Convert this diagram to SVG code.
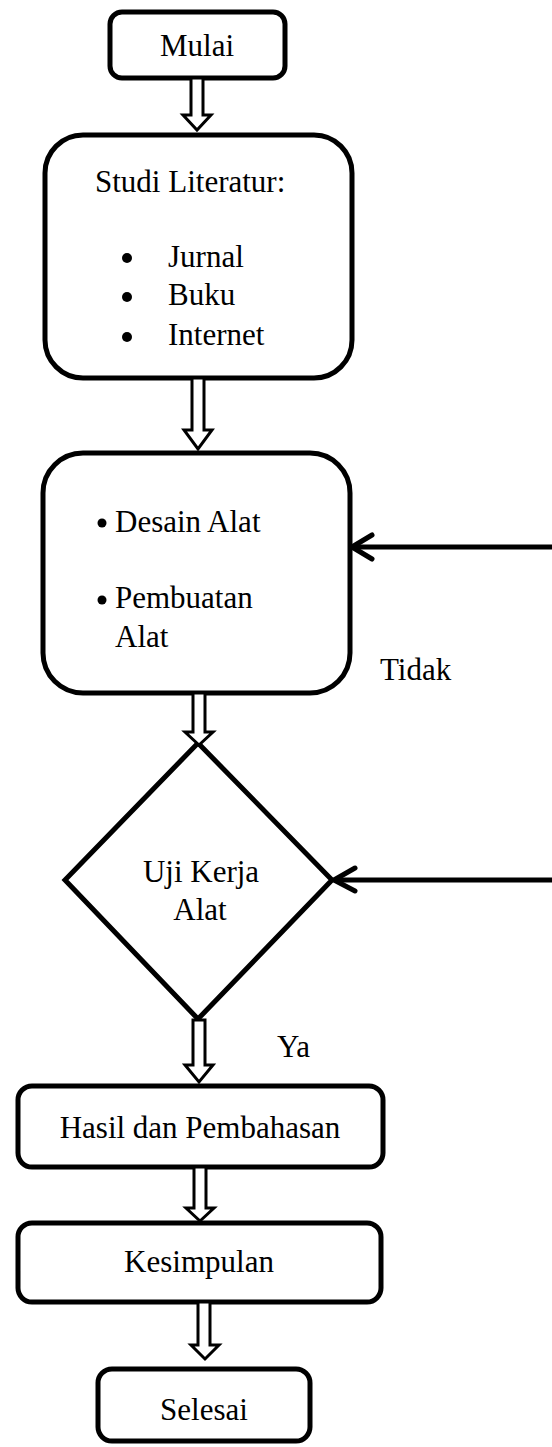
<svg xmlns="http://www.w3.org/2000/svg" width="552" height="1447" viewBox="0 0 552 1447">
<style>
.box{fill:#fff;stroke:#000;stroke-width:5}
.t{font-family:"Liberation Serif","Times New Roman",serif;font-size:31px;fill:#000}
.c{text-anchor:middle}
.ha{fill:#fff;stroke:#000;stroke-width:3;stroke-linejoin:miter}
.ln{fill:none;stroke:#000;stroke-width:5;stroke-linecap:round;stroke-linejoin:round}
</style>
<rect width="552" height="1447" fill="#fff"/>
<g id="mulai">
<rect class="box" x="110" y="12" width="175" height="66" rx="12"/>
<text class="t c" x="197" y="56">Mulai</text>
</g>
<g id="studi">
<rect class="box" x="45" y="135" width="307" height="243" rx="38"/>
<text class="t" x="95" y="192">Studi Literatur:</text>
<circle cx="127" cy="258" r="5"/>
<circle cx="127" cy="297" r="5"/>
<circle cx="127" cy="337" r="5"/>
<text class="t" x="168" y="267">Jurnal</text>
<text class="t" x="168" y="305">Buku</text>
<text class="t" x="168" y="345">Internet</text>
</g>
<g id="desain">
<rect class="box" x="43" y="453" width="307" height="240" rx="40"/>
<circle cx="102" cy="523" r="4.5"/>
<circle cx="102" cy="600" r="4.5"/>
<text class="t" x="115" y="532">Desain Alat</text>
<text class="t" x="115" y="608">Pembuatan</text>
<text class="t" x="115" y="647">Alat</text>
</g>
<g id="uji">
<polygon class="box" points="198,743 332,880 198,1019 65,880"/>
<text class="t c" x="201" y="882">Uji Kerja</text>
<text class="t c" x="200" y="920">Alat</text>
</g>
<g id="hasil">
<rect class="box" x="18" y="1086" width="365" height="81" rx="14"/>
<text class="t c" x="200" y="1138">Hasil dan Pembahasan</text>
</g>
<g id="kesimpulan">
<rect class="box" x="18" y="1223" width="363" height="79" rx="14"/>
<text class="t c" x="199" y="1272">Kesimpulan</text>
</g>
<g id="selesai">
<rect class="box" x="98" y="1369" width="212" height="72" rx="14"/>
<text class="t c" x="204" y="1420">Selesai</text>
</g>
<g id="connectors">
<polygon class="ha" points="191,78 203,78 203,115 211,115 197,130 183,115 191,115"/>
<polygon class="ha" points="192,378 204,378 204,430 212,430 198,449 184,430 192,430"/>
<polygon class="ha" points="193,693 205,693 205,732 213,732 199,745 185,732 193,732"/>
<polygon class="ha" points="193,1020 205,1020 205,1065 213,1065 199,1082 185,1065 193,1065"/>
<polygon class="ha" points="194,1167 206,1167 206,1208 214,1208 200,1221 186,1208 194,1208"/>
<polygon class="ha" points="198,1302 210,1302 210,1345 219,1345 205,1359 191,1345 198,1345"/>
<line class="ln" x1="552" y1="547" x2="353" y2="547"/>
<polyline class="ln" points="372,535 352,547 372,559"/>
<line class="ln" x1="552" y1="880" x2="335" y2="880"/>
<polyline class="ln" points="355,868 334,880 355,891"/>
<text class="t" x="380" y="680">Tidak</text>
<text class="t" x="277" y="1057">Ya</text>
</g>
</svg>
